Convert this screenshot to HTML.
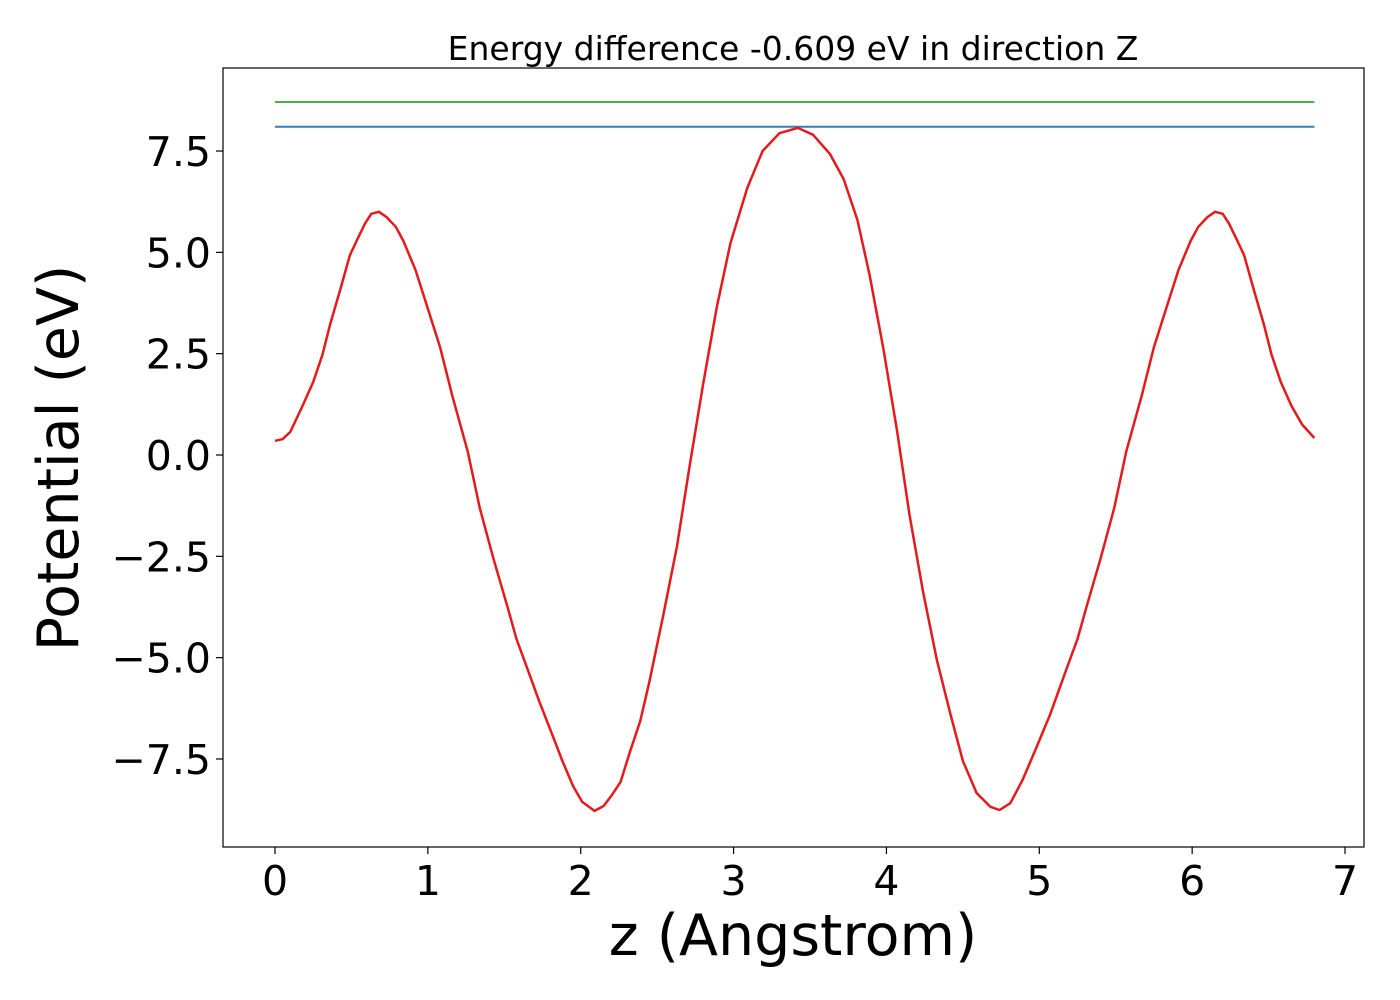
<!DOCTYPE html>
<html><head><meta charset="utf-8"><style>
html,body{margin:0;padding:0;background:#fff;}
svg{display:block;font-family:"DejaVu Sans","Liberation Sans",sans-serif;}
</style></head><body>
<svg id="chart" width="1400" height="1000" viewBox="0 0 1400 1000" xmlns="http://www.w3.org/2000/svg">
<rect width="1400" height="1000" fill="#fff"/>
<text x="793" y="60" font-size="33" text-anchor="middle">Energy difference -0.609 eV in direction Z</text>
<g id="plot"></g>
<rect x="223" y="68" width="1141" height="779" fill="none" stroke="#000" stroke-width="1.2"/>
<g id="xticks"></g><g id="yticks"></g>
<text x="793" y="955" font-size="57" text-anchor="middle">z (Angstrom)</text>
<text x="78" y="458" font-size="57" text-anchor="middle" transform="rotate(-90 78 458)">Potential (eV)</text>
</svg>
<script>
const zValues=[0.00,0.05,0.10,0.18,0.25,0.31,0.36,0.43,0.49,0.54,0.59,0.63,0.68,0.73,0.79,0.84,0.92,0.99,1.08,1.16,1.26,1.34,1.43,1.52,1.58,1.65,1.73,1.82,1.88,1.95,2.01,2.09,2.15,2.20,2.26,2.32,2.39,2.45,2.54,2.63,2.71,2.80,2.89,2.98,3.09,3.19,3.30,3.42,3.52,3.63,3.72,3.81,3.89,3.98,4.07,4.15,4.24,4.33,4.42,4.50,4.59,4.68,4.74,4.81,4.89,4.98,5.07,5.18,5.25,5.31,5.40,5.49,5.57,5.67,5.75,5.84,5.91,5.99,6.04,6.10,6.15,6.20,6.24,6.29,6.34,6.40,6.47,6.52,6.58,6.65,6.72,6.80];
const potential=[0.35,0.39,0.57,1.21,1.80,2.47,3.21,4.12,4.93,5.33,5.72,5.95,6.00,5.87,5.63,5.28,4.56,3.73,2.66,1.46,0.10,-1.31,-2.57,-3.73,-4.54,-5.26,-6.09,-6.96,-7.55,-8.17,-8.56,-8.78,-8.66,-8.41,-8.07,-7.35,-6.56,-5.58,-3.95,-2.25,-0.32,1.73,3.65,5.23,6.59,7.50,7.94,8.07,7.90,7.43,6.81,5.80,4.44,2.62,0.59,-1.46,-3.38,-5.06,-6.41,-7.55,-8.34,-8.68,-8.76,-8.59,-8.02,-7.23,-6.41,-5.26,-4.54,-3.73,-2.57,-1.31,0.10,1.46,2.66,3.73,4.56,5.28,5.63,5.87,6.00,5.95,5.72,5.33,4.93,4.12,3.21,2.47,1.80,1.21,0.75,0.42];
const levelValues=[8.10,8.71];
const levelNames=['level-blue','level-green'];
const levelColors=['#377eb8','#4daf4a'];
const levelRange=[0,6.8];
const xTicks=[0,1,2,3,4,5,6,7];
const xTickLabels=['0','1','2','3','4','5','6','7'];
const yTicks=[-7.5,-5,-2.5,0,2.5,5,7.5];
const yTickLabels=['\u22127.5','\u22125.0','\u22122.5','0.0','2.5','5.0','7.5'];

const X=z=>275+z*152.86;
const Y=v=>455-v*40.53;
const NS='http://www.w3.org/2000/svg';
const plot=document.getElementById('plot');
levelValues.forEach((v,i)=>{
  const l=document.createElementNS(NS,'line');
  
  
  l.setAttribute('x1',X(levelRange[0]));l.setAttribute('x2',X(levelRange[1]));
  l.setAttribute('y1',Y(v));l.setAttribute('y2',Y(v));
  l.setAttribute('stroke',levelColors[i]);l.setAttribute('stroke-width','2');
  plot.appendChild(l);
});
const p=document.createElementNS(NS,'polyline');


p.setAttribute('points',zValues.map((z,i)=>X(z).toFixed(1)+','+Y(potential[i]).toFixed(1)).join(' '));
p.setAttribute('fill','none');p.setAttribute('stroke','#e41a1c');p.setAttribute('stroke-width','2.5');p.setAttribute('stroke-linejoin','round');
plot.appendChild(p);
const xg=document.getElementById('xticks');
xTicks.forEach((t,i)=>{
  const l=document.createElementNS(NS,'line');
  
  
  l.setAttribute('x1',X(t));l.setAttribute('x2',X(t));l.setAttribute('y1',847);l.setAttribute('y2',854);
  l.setAttribute('stroke','#000');l.setAttribute('stroke-width','1.2');xg.appendChild(l);
  const s=document.createElementNS(NS,'text');
  
  
  s.setAttribute('x',X(t));s.setAttribute('y',895);s.setAttribute('font-size','41');s.setAttribute('text-anchor','middle');
  s.textContent=xTickLabels[i];xg.appendChild(s);
});
const yg=document.getElementById('yticks');
yTicks.forEach((t,i)=>{
  const l=document.createElementNS(NS,'line');
  
  
  l.setAttribute('x1',216);l.setAttribute('x2',223);l.setAttribute('y1',Y(t));l.setAttribute('y2',Y(t));
  l.setAttribute('stroke','#000');l.setAttribute('stroke-width','1.2');yg.appendChild(l);
  const s=document.createElementNS(NS,'text');
  
  
  s.setAttribute('x',211);s.setAttribute('y',Y(t)+15);s.setAttribute('font-size','41');s.setAttribute('text-anchor','end');
  s.textContent=yTickLabels[i];yg.appendChild(s);
});
</script>
</body></html>
